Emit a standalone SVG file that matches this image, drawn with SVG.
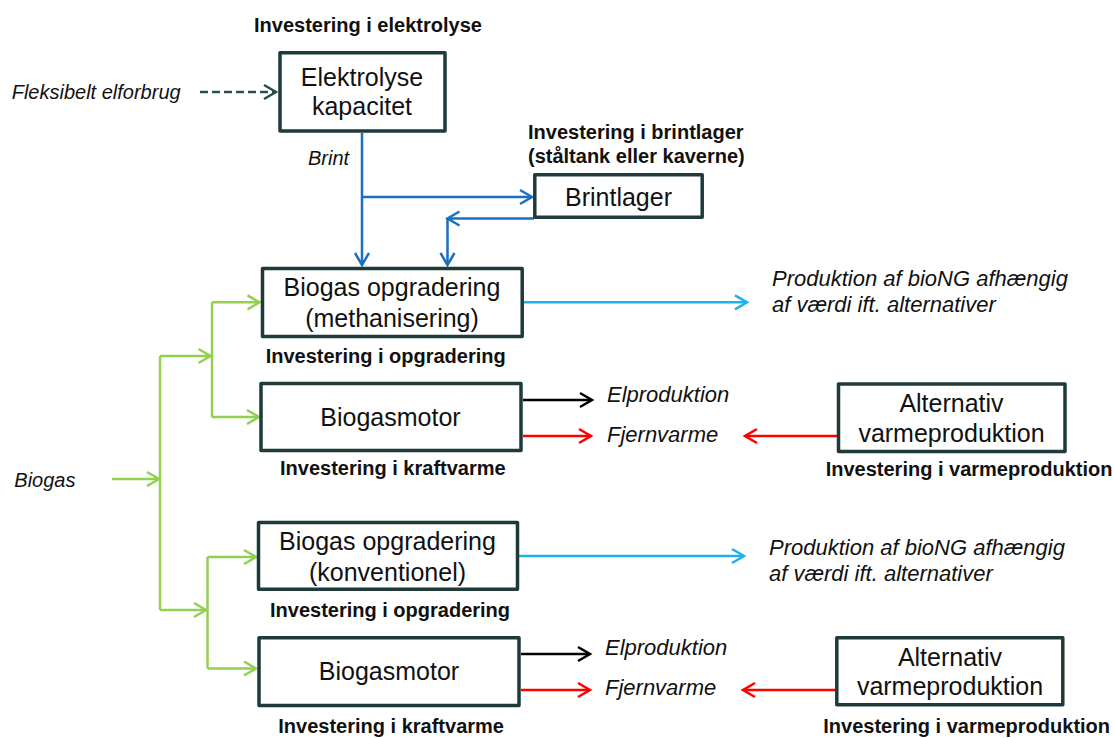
<svg xmlns="http://www.w3.org/2000/svg" width="1114" height="738" viewBox="0 0 1114 738">
  <style>
    .box { fill: #ffffff; stroke: #1f3a3a; stroke-width: 3.5; stroke-linejoin: round; }
    .node { font-family: "Liberation Sans", Arial, sans-serif; font-size: 25px; fill: #111111; text-anchor: middle; }
    .inv { font-family: "Liberation Sans", Arial, sans-serif; font-size: 20px; font-weight: bold; fill: #111111; }
    .lbl { font-family: "Liberation Sans", Arial, sans-serif; font-style: italic; fill: #111111; }
    .s20 { font-size: 20px; }
    .s22 { font-size: 22px; }
    .ln { fill: none; stroke-width: 2.5; }
    .blue { stroke: #1b6fc1; }
    .sky { stroke: #1db2ec; }
    .green { stroke: #92d050; }
    .red { stroke: #ff0000; }
    .black { stroke: #000000; }
    .teal { stroke: #2a4f4f; stroke-dasharray: 8 4; }
  </style>
  <defs>
    <marker id="ah-blue" viewBox="-15 -10 18 20" markerWidth="18" markerHeight="20" refX="0" refY="0" orient="auto" markerUnits="userSpaceOnUse">
      <path d="M-12,-7 L0,0 L-12,7" fill="none" stroke="#1b6fc1" stroke-width="2.5"/>
    </marker>
    <marker id="ah-sky" viewBox="-15 -10 18 20" markerWidth="18" markerHeight="20" refX="0" refY="0" orient="auto" markerUnits="userSpaceOnUse">
      <path d="M-12,-7 L0,0 L-12,7" fill="none" stroke="#1db2ec" stroke-width="2.5"/>
    </marker>
    <marker id="ah-green" viewBox="-15 -10 18 20" markerWidth="18" markerHeight="20" refX="0" refY="0" orient="auto" markerUnits="userSpaceOnUse">
      <path d="M-12,-7 L0,0 L-12,7" fill="none" stroke="#92d050" stroke-width="2.5"/>
    </marker>
    <marker id="ah-red" viewBox="-15 -10 18 20" markerWidth="18" markerHeight="20" refX="0" refY="0" orient="auto" markerUnits="userSpaceOnUse">
      <path d="M-12,-7 L0,0 L-12,7" fill="none" stroke="#ff0000" stroke-width="2.5"/>
    </marker>
    <marker id="ah-black" viewBox="-15 -10 18 20" markerWidth="18" markerHeight="20" refX="0" refY="0" orient="auto" markerUnits="userSpaceOnUse">
      <path d="M-12,-7 L0,0 L-12,7" fill="none" stroke="#000000" stroke-width="2.5"/>
    </marker>
    <marker id="ah-teal" viewBox="-15 -10 18 20" markerWidth="18" markerHeight="20" refX="0" refY="0" orient="auto" markerUnits="userSpaceOnUse">
      <path d="M-12,-7 L0,0 L-12,7" fill="none" stroke="#2a4f4f" stroke-width="2.5"/>
    </marker>
  </defs>

  <rect width="1114" height="738" fill="#ffffff"/>

  <!-- connectors -->
  <g id="connectors">
    <!-- electricity into electrolysis -->
    <path class="ln teal" d="M200,92 H276" marker-end="url(#ah-teal)"/>
    <!-- hydrogen -->
    <path class="ln blue" d="M362,133 V265" marker-end="url(#ah-blue)"/>
    <path class="ln blue" d="M362,197 H532" marker-end="url(#ah-blue)"/>
    <path class="ln blue" d="M534,218.5 H447.5" marker-end="url(#ah-blue)"/>
    <path class="ln blue" d="M447.5,218.5 V265" marker-end="url(#ah-blue)"/>
    <!-- bioNG out -->
    <path class="ln sky" d="M524,302.3 H747" marker-end="url(#ah-sky)"/>
    <path class="ln sky" d="M519,556 H744" marker-end="url(#ah-sky)"/>
    <!-- CHP outputs -->
    <path class="ln black" d="M523,400 H592" marker-end="url(#ah-black)"/>
    <path class="ln red" d="M523,436 H591" marker-end="url(#ah-red)"/>
    <path class="ln red" d="M837,436 H745" marker-end="url(#ah-red)"/>
    <path class="ln black" d="M521,654 H590" marker-end="url(#ah-black)"/>
    <path class="ln red" d="M521,690 H590" marker-end="url(#ah-red)"/>
    <path class="ln red" d="M835,690 H743" marker-end="url(#ah-red)"/>
    <!-- biogas distribution -->
    <path class="ln green" d="M112,479 H159" marker-end="url(#ah-green)"/>
    <path class="ln green" d="M160,356 V610"/>
    <path class="ln green" d="M160,356 H210.5" marker-end="url(#ah-green)"/>
    <path class="ln green" d="M212,302.3 V417"/>
    <path class="ln green" d="M212,302.3 H259.5" marker-end="url(#ah-green)"/>
    <path class="ln green" d="M212,417 H259" marker-end="url(#ah-green)"/>
    <path class="ln green" d="M160,610 H206" marker-end="url(#ah-green)"/>
    <path class="ln green" d="M207.5,557 V668.5"/>
    <path class="ln green" d="M207.5,557 H256" marker-end="url(#ah-green)"/>
    <path class="ln green" d="M207.5,668.5 H256" marker-end="url(#ah-green)"/>
  </g>

  <!-- free labels -->
  <g id="labels">
    <text class="lbl s20" x="11.7" y="99">Fleksibelt elforbrug</text>
    <text class="lbl s20" x="308" y="165">Brint</text>
    <text class="lbl s20" x="14.3" y="486.7">Biogas</text>
    <text class="lbl s22" x="772" y="285.7">Produktion af bioNG afhængig</text>
    <text class="lbl s22" x="772" y="311.7">af værdi ift. alternativer</text>
    <text class="lbl s22" x="769" y="555">Produktion af bioNG afhængig</text>
    <text class="lbl s22" x="769" y="580.7">af værdi ift. alternativer</text>
    <text class="lbl s22" x="607" y="401.5">Elproduktion</text>
    <text class="lbl s22" x="607" y="442">Fjernvarme</text>
    <text class="lbl s22" x="605" y="655">Elproduktion</text>
    <text class="lbl s22" x="605" y="695">Fjernvarme</text>
  </g>

  <g id="elektrolyse">
    <text class="inv" x="254" y="31.7">Investering i elektrolyse</text>
    <rect class="box" x="280" y="52.8" width="165" height="78.2"/>
    <text class="node" x="362" y="86">Elektrolyse</text>
    <text class="node" x="362" y="115">kapacitet</text>
  </g>

  <g id="brintlager">
    <text class="inv" x="528" y="139">Investering i brintlager</text>
    <text class="inv" x="528" y="163">(ståltank eller kaverne)</text>
    <rect class="box" x="534.8" y="174.8" width="167.4" height="42.4"/>
    <text class="node" x="618.5" y="206">Brintlager</text>
  </g>

  <g id="opgradering-methanisering">
    <rect class="box" x="262.5" y="268.5" width="259.7" height="68"/>
    <text class="node" x="392" y="296">Biogas opgradering</text>
    <text class="node" x="392" y="326.7">(methanisering)</text>
    <text class="inv" x="265.7" y="363.3">Investering i opgradering</text>
  </g>

  <g id="biogasmotor-1">
    <rect class="box" x="261" y="383.5" width="260" height="67"/>
    <text class="node" x="390.5" y="426">Biogasmotor</text>
    <text class="inv" x="280" y="475">Investering i kraftvarme</text>
  </g>

  <g id="alternativ-1">
    <rect class="box" x="838.5" y="384" width="226.5" height="67.5"/>
    <text class="node" x="951.5" y="411.7">Alternativ</text>
    <text class="node" x="951.5" y="441.7">varmeproduktion</text>
    <text class="inv" x="825.7" y="476">Investering i varmeproduktion</text>
  </g>

  <g id="opgradering-konventionel">
    <rect class="box" x="258.5" y="522.5" width="259" height="66.7"/>
    <text class="node" x="387.5" y="550">Biogas opgradering</text>
    <text class="node" x="387.5" y="581">(konventionel)</text>
    <text class="inv" x="270" y="616.7">Investering i opgradering</text>
  </g>

  <g id="biogasmotor-2">
    <rect class="box" x="259" y="637.8" width="260" height="67.7"/>
    <text class="node" x="389" y="680">Biogasmotor</text>
    <text class="inv" x="278.3" y="733.3">Investering i kraftvarme</text>
  </g>

  <g id="alternativ-2">
    <rect class="box" x="836.8" y="637.8" width="226" height="67"/>
    <text class="node" x="950" y="665.7">Alternativ</text>
    <text class="node" x="950" y="695">varmeproduktion</text>
    <text class="inv" x="823.3" y="733.3">Investering i varmeproduktion</text>
  </g>
</svg>
